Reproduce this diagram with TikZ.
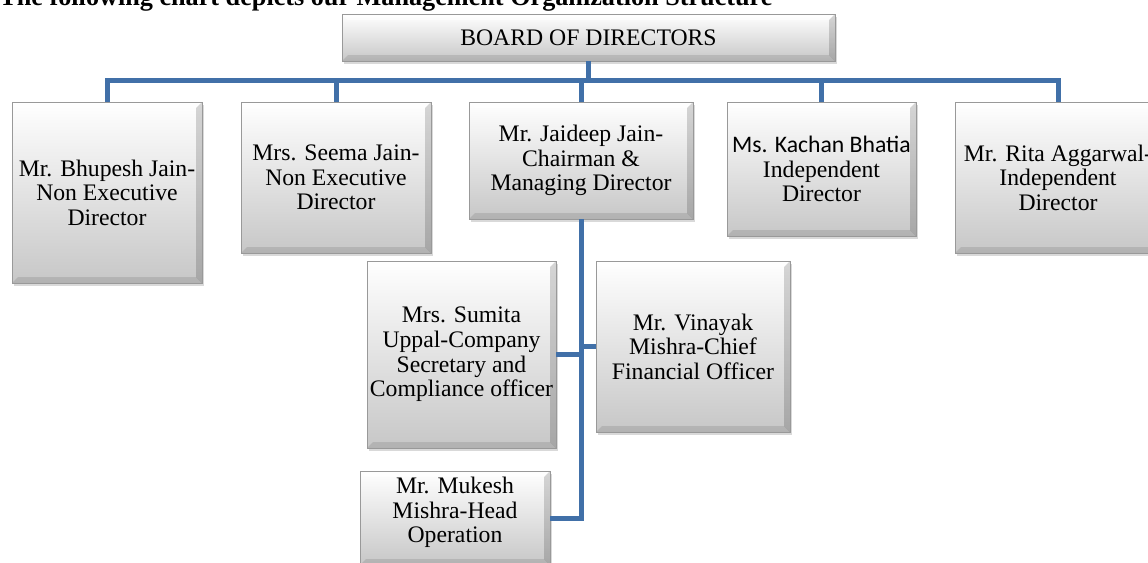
\documentclass[tikz,border=0pt]{standalone}
\usepackage{fontspec}
\setmainfont{Liberation Serif}
\newfontfamily\calibrilike{Carlito}
\usepackage{tikz}
\usepackage{xcolor}
\usetikzlibrary{shadows}

\definecolor{busblue}{HTML}{4170A8}

\begin{document}
\begin{tikzpicture}[
    x=0.5pt, y=-0.5pt,
    every node/.style={font=\fontsize{11.85}{12.3}\selectfont},
    member/.style={%
      rectangle,
      align=center,
      inner sep=0pt,
      draw=black!40,
      line width=0.4pt,
      top color=white,
      bottom color=black!22,
      drop shadow={opacity=0.3, shadow xshift=1.2pt, shadow yshift=-1.6pt},
      path picture={%
        \fill[white,opacity=.55] (path picture bounding box.north west) -- (path picture bounding box.north east)
          -- ([shift={(-3pt,-3pt)}]path picture bounding box.north east) -- ([shift={(3pt,-3pt)}]path picture bounding box.north west) -- cycle;
        \fill[black,opacity=.10] (path picture bounding box.south west) -- (path picture bounding box.south east)
          -- ([shift={(-3pt,3pt)}]path picture bounding box.south east) -- ([shift={(3pt,3pt)}]path picture bounding box.south west) -- cycle;
        \fill[black,opacity=.16] (path picture bounding box.north east) -- (path picture bounding box.south east)
          -- ([shift={(-3pt,3pt)}]path picture bounding box.south east) -- ([shift={(-3pt,-3pt)}]path picture bounding box.north east) -- cycle;
      },
    },
    link/.style={%
      draw=busblue,
      line width=2.5pt,
    },
  ]

    \useasboundingbox (0,0) rectangle (1148,563);
    \clip (0,0) rectangle (1148,563);

    \node [anchor=base west,inner sep=0pt,font=\fontsize{13.1}{14}\selectfont\bfseries] (title) at (-1,5)
      {The following chart depicts our Management Organization Structure};

    % board and directors
    \node [member,minimum width=246.5pt,minimum height=23.5pt] (board) at (588.5,37.5) {BOARD OF DIRECTORS};
    \node [member,minimum width=95pt,minimum height=90.5pt] (bhupesh) at (107,192.5) {Mr. Bhupesh Jain-\\Non Executive\\Director};
    \node [member,minimum width=95pt,minimum height=75.5pt] (seema) at (336,177.5) {Mrs. Seema Jain-\\Non Executive\\Director};
    \node [member,minimum width=112pt,minimum height=58.5pt] (jaideep) at (581,160.5) {Mr. Jaideep Jain-\\Chairman \&\\Managing Director};
    \node [member,minimum width=94.5pt,minimum height=67pt] (kachan) at (821.5,169) {{\calibrilike Ms. Kachan Bhatia}\\Independent\\Director};
    \node [member,minimum width=103pt,minimum height=75.5pt] (rita) at (1058,177.5) {Mr. Rita Aggarwal-\\Independent\\Director};

    % management
    \node [member,minimum width=94.5pt,minimum height=93.5pt] (sumita) at (461.5,354.5) {Mrs. Sumita\\Uppal-Company\\Secretary and\\Compliance officer};
    \node [member,minimum width=97pt,minimum height=85.5pt] (vinayak) at (693,346.5) {Mr. Vinayak\\Mishra-Chief\\Financial Officer};
    \node [member,minimum width=95pt,minimum height=47pt,text depth=8pt] (mukesh) at (455,518) {Mr. Mukesh\\Mishra-Head\\Operation};

    \foreach \n in {bhupesh,seema,jaideep,kachan,rita}
        \draw [link] (board.south) -- ++(0,19) -| (\n.north);
    \draw [link] (jaideep.south) |- (sumita.east);
    \draw [link] (jaideep.south) |- (vinayak.west);
    \draw [link] (jaideep.south) |- (mukesh.east);
\end{tikzpicture}
\end{document}
